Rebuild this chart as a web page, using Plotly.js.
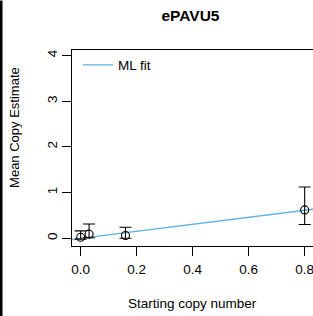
<!DOCTYPE html>
<html>
<head>
<meta charset="utf-8">
<script src="https://cdn.plot.ly/plotly-3.0.1.min.js"></script>
<style>html,body{margin:0;padding:0;background:#fff;overflow:hidden;}#chart{width:315px;height:316px;}</style>
</head>
<body>
<div id="chart"></div>
<script>
// Data
const startCopy = [0, 0.03, 0.16, 0.8];
const meanEst   = [0.02, 0.09, 0.06, 0.62];
const upperEst  = [0.16, 0.31, 0.24, 1.12];
const lowerEst  = [-0.02, 0.01, 0.0, 0.30];
const fitX = [-0.05, 0.85];
const fitY = [-0.04, 0.65];
const xTicks = [0, 0.2, 0.4, 0.6, 0.8];
const xTickText = ['0.0', '0.2', '0.4', '0.6', '0.8'];
const yTicks = [0, 1, 2, 3, 4];
const yTickText = ['0', '1', '2', '3', '4'];

const FONT = 'Liberation Sans, Arial, Helvetica, sans-serif';

const fitTrace = {
  x: fitX, y: fitY, type: 'scatter', mode: 'lines', name: 'ML fit',
  line: {color: '#5fb0e2', width: 1.3}, showlegend: true, hoverinfo: 'skip'
};
const ptsTrace = {
  x: startCopy, y: meanEst, type: 'scatter', mode: 'markers', showlegend: false,
  marker: {symbol: 'circle-open', size: 8, color: '#000', line: {width: 1.1, color: '#000'}},
  error_y: {
    type: 'data', symmetric: false,
    array: upperEst.map((u, i) => u - meanEst[i]),
    arrayminus: lowerEst.map((l, i) => meanEst[i] - l),
    color: '#000', thickness: 1.1, width: 6
  },
  cliponaxis: false
};

const L = 72, T = 49.5, W = 315, H = 316, B = 70.3;
const plotW = W - L, plotH = H - T - B;
const px = v => (v - L) / plotW;
const py = v => (H - B - v) / plotH;
const xPerUnit = 280;

const layout = {
  width: W, height: H,
  margin: {l: L, r: 0, t: T, b: B, pad: 0},
  paper_bgcolor: '#fff', plot_bgcolor: '#fff',
  font: {family: FONT, size: 13.5, color: '#000'},
  title: {
    text: '<b>ePAVU5</b>', font: {family: FONT, size: 15.5, color: '#000'},
    xref: 'container', yref: 'container', x: 190.5 / W, y: 1 - 16 / H,
    xanchor: 'center', yanchor: 'middle'
  },
  xaxis: {
    range: [-0.031, -0.031 + plotW / xPerUnit], tickvals: xTicks, ticktext: xTickText,
    showgrid: false, zeroline: false, showline: true, mirror: true,
    linecolor: '#000', linewidth: 1, ticks: 'outside', ticklen: 9,
    tickcolor: '#000', tickwidth: 1, tickfont: {family: FONT, size: 13.5, color: '#000'},
    ticklabeloverflow: 'allow', ticklabelstandoff: 2,
    fixedrange: true
  },
  yaxis: {
    range: [-0.17, 4.12], tickvals: yTicks, ticktext: yTickText,
    showgrid: false, zeroline: false, showline: true, mirror: true,
    linecolor: '#000', linewidth: 1, ticks: 'outside', ticklen: 9,
    tickcolor: '#000', tickwidth: 1, tickangle: -90,
    tickfont: {family: FONT, size: 13.5, color: '#000'}, fixedrange: true
  },
  legend: {
    x: px(78), y: py(49), xanchor: 'left', yanchor: 'top',
    bgcolor: 'rgba(0,0,0,0)', borderwidth: 0,
    font: {family: FONT, size: 13.5, color: '#000'}
  },
  annotations: [
    {text: 'Mean Copy Estimate', xref: 'paper', yref: 'paper', x: px(15), y: py(127.5),
     xanchor: 'center', yanchor: 'middle', textangle: -90, showarrow: false,
     font: {family: FONT, size: 13, color: '#000'}},
    {text: 'Starting copy number', xref: 'paper', yref: 'paper', x: px(192), y: py(303),
     xanchor: 'center', yanchor: 'middle', showarrow: false,
     font: {family: FONT, size: 13.5, color: '#000'}}
  ],
  shapes: [
    {type: 'rect', xref: 'paper', yref: 'paper', x0: px(0), x1: px(2.5), y0: py(H), y1: py(0),
     fillcolor: '#000', line: {width: 0}, layer: 'above'}
  ],
  showlegend: true
};

Plotly.newPlot('chart', [fitTrace, ptsTrace], layout, {displayModeBar: false, staticPlot: true});
</script>
</body>
</html>
